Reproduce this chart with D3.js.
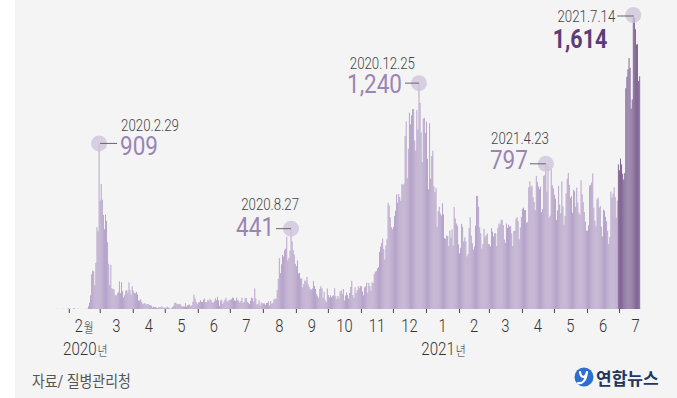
<!DOCTYPE html>
<html>
<head>
<meta charset="utf-8">
<script src="https://cdn.jsdelivr.net/npm/d3@7"></script>
<style>
body { margin: 0; background: #fff; }
svg text { font-family: Roboto, "Noto Sans CJK KR", sans-serif; }
</style>
</head>
<body>
<script>
// daily new cases (announcement date), first bar = 2020-01-20
var firstDay = "2020-01-20";
var darkFrom = "2021-06-30";   // last three weeks drawn darker

var cases2020 = [
  // Jan 20-31
  1, 0, 0, 0, 1, 0, 1, 1, 0, 0, 2, 5,
  // Feb
  1, 3, 0, 1, 3, 4, 1, 0, 3, 0, 1, 0, 0, 0, 0, 1, 1, 1, 15, 34, 75, 190, 210, 207, 130, 253, 449, 427, 909,
  // Mar
  595, 686, 600, 516, 438, 518, 483, 367, 248, 131, 242, 114, 110, 107, 76, 74, 84, 93, 152, 87,
  147, 98, 64, 76, 100, 104, 91, 146, 105, 78, 125,
  // Apr
  101, 89, 86, 94, 81, 47, 47, 53, 39, 27, 30, 32, 25, 27, 27, 22, 22, 18, 8, 13,
  9, 11, 8, 6, 10, 10, 10, 14, 9, 4,
  // May
  9, 6, 13, 8, 3, 2, 4, 12, 18, 34, 35, 27, 26, 29, 27, 19, 13, 15, 13, 32,
  12, 20, 23, 25, 16, 19, 40, 79, 58, 39, 27,
  // Jun
  35, 38, 49, 39, 39, 51, 57, 38, 38, 50, 45, 56, 49, 37, 34, 43, 59, 49, 67, 48,
  17, 46, 51, 28, 39, 51, 62, 42, 43, 50,
  // Jul
  51, 54, 63, 61, 48, 44, 62, 50, 45, 35, 44, 62, 33, 39, 61, 60, 39, 34, 26, 45,
  63, 59, 41, 113, 58, 25, 28, 48, 18, 36, 31,
  // Aug
  31, 30, 23, 34, 33, 43, 20, 43, 28, 34, 54, 56, 56, 103, 166, 279, 197, 246, 297, 288,
  324, 332, 397, 266, 280, 320, 441, 371, 323, 299, 248,
  // Sep
  235, 267, 195, 198, 168, 167, 119, 136, 156, 155, 176, 136, 121, 109, 106, 113, 153, 126, 110, 82,
  70, 61, 110, 125, 114, 61, 95, 50, 38, 113,
  // Oct
  77, 63, 75, 64, 73, 75, 114, 69, 54, 72, 58, 97, 102, 84, 110, 47, 73, 91, 76, 58,
  89, 121, 155, 77, 61, 119, 88, 103, 125, 114, 127,
  // Nov
  124, 97, 75, 118, 125, 145, 89, 143, 126, 100, 146, 143, 191, 205, 208, 223, 230, 313, 343, 363,
  386, 330, 271, 349, 382, 583, 569, 504, 450, 438,
  // Dec
  451, 511, 540, 629, 583, 631, 615, 594, 686, 682, 689, 950, 1030, 718, 880, 1078, 1014, 1064, 1097, 1097,
  926, 869, 1092, 985, 1240, 1132, 970, 807, 1045, 1050, 967
];

var cases2021 = [
  // Jan
  1029, 824, 657, 1020, 715, 840, 869, 674, 641, 665, 451, 537, 562, 524, 513, 580, 520, 389, 386, 404,
  401, 346, 431, 392, 437, 349, 559, 497, 469, 458, 355,
  // Feb
  305, 336, 467, 451, 370, 393, 372, 289, 303, 444, 504, 403, 362, 326, 344, 457, 621, 621, 561, 448,
  416, 332, 357, 440, 396, 406, 415, 356,
  // Mar
  355, 344, 444, 424, 398, 416, 416, 346, 446, 470, 465, 488, 490, 461, 382, 363, 469, 445, 463, 452,
  456, 415, 346, 428, 430, 494, 505, 482, 382, 447, 506,
  // Apr
  551, 557, 543, 543, 473, 478, 668, 700, 671, 677, 614, 587, 542, 731, 698, 673, 658, 672, 532, 549,
  731, 735, 797, 644, 785, 500, 512, 769, 680, 661,
  // May
  627, 606, 488, 541, 676, 574, 525, 701, 564, 463, 511, 635, 715, 747, 681, 610, 619, 528, 654, 646,
  561, 666, 585, 530, 516, 707, 629, 587, 533, 480, 430,
  // Jun
  430, 459, 677, 681, 695, 744, 556, 485, 454, 602, 611, 556, 565, 452, 399, 545, 540, 507, 482, 429,
  357, 395, 645, 610, 634, 668, 614, 501, 595, 794,
  // Jul 1-20
  762, 826, 794, 743, 711, 746, 1212, 1275, 1316, 1378, 1324, 1100, 1150, 1614, 1600, 1536, 1452, 1454, 1252, 1278
];

var monthLabels = ["2", "3", "4", "5", "6", "7", "8", "9", "10", "11", "12",
                   "1", "2", "3", "4", "5", "6", "7"];
var yearLabels = [{month: "2020-02-01", text: "2020"}, {month: "2021-01-01", text: "2021"}];

var peakDates  = ["2020-02-29", "2020-08-27", "2020-12-25", "2021-04-23", "2021-07-14"];
var peakLabels = ["2020.2.29", "2020.8.27", "2020.12.25", "2021.4.23", "2021.7.14"];

var source = "자료/ 질병관리청";

// ---- layout ----
var width = 677, height = 398;
var baseY = 309, topY = 15;
var parseDay = d3.utcParse("%Y-%m-%d");

var start = parseDay(firstDay);
var data = cases2020.concat(cases2021).map(function(v, i) {
  return { date: d3.utcDay.offset(start, i), value: v };
});
var end = d3.utcDay.offset(data[data.length - 1].date, 1);
var dark = parseDay(darkFrom);

var x = d3.scaleUtc().domain([start, end]).range([56, 640.3]);
var y = d3.scaleLinear().domain([0, 1614]).range([baseY, topY]);
var dayW = x(d3.utcDay.offset(start, 1)) - x(start);

var svg = d3.select("body").append("svg")
  .attr("width", width)
  .attr("height", height);

// background
svg.append("rect").attr("width", width).attr("height", height).attr("fill", "#fff");
svg.append("rect").attr("x", 15).attr("width", width - 15).attr("height", height).attr("fill", "#f4f4f4");

// bars
svg.append("g").selectAll("rect")
  .data(data)
  .enter().append("rect")
  .attr("x", function(d) { return x(d.date); })
  .attr("width", dayW * 0.85)
  .attr("y", function(d) { return y(d.value); })
  .attr("height", function(d) { return baseY - y(d.value); })
  .attr("fill", function(d) { return d.date >= dark ? "#76588d" : "#b19cc6"; });

// month ticks
var months = d3.utcMonth.range(parseDay("2020-02-01"), parseDay("2021-07-02"));
var axis = svg.append("g")
  .attr("transform", "translate(0," + baseY + ")")
  .call(d3.axisBottom(x).tickValues(months).tickSize(4).tickFormat(""));
axis.select(".domain").remove();
axis.selectAll(".tick line").attr("stroke", "#444");

// text helper: horizontally squeezed text (the original uses a condensed face)
function label(g, str, px, py, o) {
  var t = g.append("text")
    .attr("transform", "translate(" + px + "," + py + ") scale(" + (o.sx || 1) + ",1)")
    .attr("text-anchor", o.anchor || "start")
    .attr("font-size", o.size)
    .attr("font-weight", o.weight || 400)
    .attr("fill", o.fill || "#333")
    .text(str);
  return t;
}

// month labels centred in their month
var lab = svg.append("g");
months.forEach(function(m, i) {
  var next = d3.utcMonth.offset(m, 1);
  var cx = (x(m) + x(next)) / 2;
  var t = label(lab, monthLabels[i], cx, 332, {size: 18, sx: 0.82, anchor: "middle", fill: "#333", weight: 300});
  if (i === 0) t.append("tspan").attr("font-size", 13).attr("dx", 1).text("월");
});
yearLabels.forEach(function(yl) {
  var m = parseDay(yl.month);
  var cx = (x(m) + x(d3.utcMonth.offset(m, 1))) / 2;
  var t = label(lab, yl.text, cx + 1, 355, {size: 18, sx: 0.84, anchor: "middle", fill: "#333", weight: 300});
  t.append("tspan").attr("font-size", 13).attr("dx", 1).text("년");
});

// peak annotations
var annoLayout = [
  {side: "right", dateDy: -12, numDy: 12, dateDx: 22, numDx: 21, line: [1, 18], lineDy: 0},
  {side: "left",  dateDy: -19, numDy: 7,  dateDx: 8,  numDx: -17, line: [-15, 0], lineDy: 0},
  {side: "left",  dateDy: -14, numDy: 10, dateDx: -4, numDx: -17, line: [-14, 0], lineDy: 0},
  {side: "left",  dateDy: -20, numDy: 5,  dateDx: 3,  numDx: -18, line: [-16, 0], lineDy: 0},
  {side: "left",  dateDy: 7,   numDy: 33, dateDx: -18, numDx: -26, line: [-16, 0], lineDy: 1}
];
var ann = svg.append("g");
peakDates.forEach(function(ds, i) {
  var pd = parseDay(ds);
  var rec = data.find(function(d) { return +d.date === +pd; });
  var cx = x(pd) + dayW * 0.42, cy = y(rec.value);
  var L = annoLayout[i];
  var last = i === peakDates.length - 1;
  ann.append("circle").attr("cx", cx).attr("cy", cy).attr("r", 8)
    .attr("fill", "#cdc1dc").attr("fill-opacity", 0.75);
  ann.append("line")
    .attr("x1", cx + L.line[0]).attr("x2", cx + L.line[1])
    .attr("y1", cy + L.lineDy).attr("y2", cy + L.lineDy)
    .attr("stroke", "#666").attr("stroke-width", 1);
  var anchor = L.side === "right" ? "start" : "end";
  label(ann, peakLabels[i], cx + L.dateDx, cy + L.dateDy,
    {size: 17, sx: 0.78, anchor: anchor, fill: "#444", weight: 300});
  label(ann, d3.format(",")(rec.value), cx + L.numDx, cy + L.numDy,
    {size: 25, sx: last ? 0.86 : 0.9, anchor: anchor, fill: last ? "#5b3d74" : "#9a84b3", weight: last ? 700 : 400});
});

// source
label(svg, source, 32, 387, {size: 16, sx: 0.87, fill: "#555"});

// logo
var logo = svg.append("g").attr("transform", "translate(584,377)");
logo.append("circle").attr("r", 9.5).attr("fill", "#2d6fd0");
logo.append("path")
  .attr("d", "M-4,-5 C-3,1 1,2 3,-5 M3,-5 C2,3 -1,7 -6,6")
  .attr("fill", "none").attr("stroke", "#fff").attr("stroke-width", 2.2).attr("stroke-linecap", "round");
svg.append("text")
  .attr("x", 596).attr("y", 385)
  .attr("font-size", 17).attr("font-weight", 700)
  .attr("fill", "#22365f")
  .style("font-family", "'Noto Sans CJK KR', sans-serif")
  .text("연합뉴스");
</script>
</body>
</html>
